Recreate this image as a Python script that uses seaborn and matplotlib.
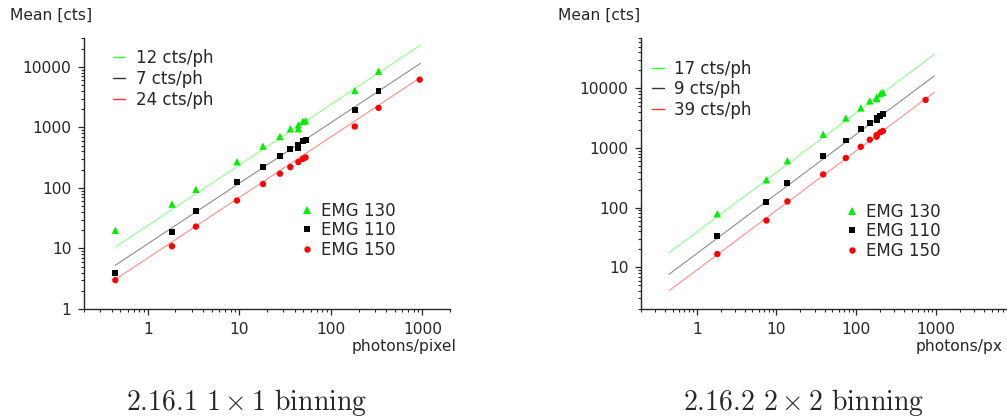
import numpy as np
import pandas as pd
import seaborn as sns
import matplotlib
matplotlib.use("Agg")
import matplotlib.pyplot as plt
from matplotlib.lines import Line2D
from matplotlib.ticker import LogLocator, FuncFormatter, NullFormatter

# ---------------- data ----------------
detectors = ["EMG 130", "EMG 110", "EMG 150"]

# 1x1 binning: illumination (photons/pixel) and mean signal (cts)
x_130_1 = [0.44, 1.83, 3.34, 9.4, 18.1, 27.7, 36, 44, 44, 49.4, 52.8, 182, 331]
y_130_1 = [20, 54, 95, 271, 490, 708, 948, 1100, 950, 1260, 1290, 4060, 8470]
x_110_1 = [0.44, 1.83, 3.34, 9.4, 18.1, 27.7, 36, 44, 44, 49.4, 52.8, 182, 331]
y_110_1 = [4.0, 19, 41, 125, 224, 340, 436, 520, 450, 600, 610, 1970, 3970]
x_150_1 = [0.44, 1.83, 3.34, 9.4, 18.1, 27.7, 36, 44, 49.4, 52.8, 182, 331, 933]
y_150_1 = [3.0, 10.9, 23, 62, 116, 172, 221, 267, 303, 319, 1035, 2100, 6150]

# 2x2 binning
x_130_2 = [1.81, 7.48, 13.7, 38.5, 74, 114, 148, 180, 180, 201, 216]
y_130_2 = [79, 293, 612, 1700, 3190, 4700, 6170, 7100, 6700, 8150, 8600]
x_110_2 = [1.81, 7.48, 13.7, 38.5, 74, 114, 148, 180, 180, 201, 216]
y_110_2 = [33.6, 125, 261, 741, 1340, 2060, 2630, 2960, 3200, 3480, 3680]
x_150_2 = [1.81, 7.48, 13.7, 38.5, 74, 114, 148, 180, 180, 201, 216, 740]
y_150_2 = [16.7, 61, 127, 361, 680, 1050, 1380, 1550, 1650, 1840, 1930, 6410]

# linear fits (cts per photon) per detector
gain_1 = {"EMG 130": 24, "EMG 110": 12, "EMG 150": 7}
gain_2 = {"EMG 130": 39, "EMG 110": 17, "EMG 150": 9}
fit_range_1 = [0.44, 950]
fit_range_2 = [0.45, 950]

# gain values written in the fit legend, top to bottom
fit_legend_1 = [12, 7, 24]
fit_legend_2 = [17, 9, 39]

captions = [r"2.16.1 $1\times1$ binning", r"2.16.2 $2\times2$ binning"]
xlabels = ["photons/pixel", "photons/px"]

# ---------------- styling ----------------
colors = {"EMG 130": "#00ee00", "EMG 110": "#000000", "EMG 150": "#ff0000"}
fit_colors = {"EMG 130": "#00ff00", "EMG 110": "#000000", "EMG 150": "#ff0000"}
markers = {"EMG 130": "^", "EMG 110": "s", "EMG 150": "o"}
msizes = {"EMG 130": 28, "EMG 110": 18, "EMG 150": 21}

TICK_FS = 11.2

sns.set_theme(style="ticks")
plt.rcParams.update({
    "font.family": ["DejaVu Sans"],
    "mathtext.fontset": "cm",
    "axes.linewidth": 1.0,
    "xtick.major.size": 4.5, "ytick.major.size": 4.5,
    "xtick.minor.size": 2.5, "ytick.minor.size": 2.5,
    "xtick.major.width": 0.9, "ytick.major.width": 0.9,
    "xtick.minor.width": 0.8, "ytick.minor.width": 0.8,
    "xtick.labelsize": TICK_FS, "ytick.labelsize": TICK_FS,
    "xtick.major.pad": 4.5, "ytick.major.pad": 4.5,
})

W, H = 1007, 419
fig = plt.figure(figsize=(W / 100, H / 100), dpi=100)


def px(x, y):
    """pixel position (from top-left) -> figure fraction"""
    return x / W, 1 - y / H


def make_axes(left, right, top, bottom):
    l, t = px(left, top)
    r, b = px(right, bottom)
    return fig.add_axes([l, b, r - l, t - b])


ax1 = make_axes(84, 450, 38, 309)
ax2 = make_axes(641, 1008, 38, 309)

panels = [
    dict(ax=ax1,
         xs={"EMG 130": x_130_1, "EMG 110": x_110_1, "EMG 150": x_150_1},
         ys={"EMG 130": y_130_1, "EMG 110": y_110_1, "EMG 150": y_150_1},
         gain=gain_1, fit_range=fit_range_1, fit_legend=fit_legend_1,
         xlim=(0.2, 2000), ylim=(1, 30000),
         fit_leg_xy=(113, 49), pt_leg_xy=(300, 202), spacing=(0.17, 0.08)),
    dict(ax=ax2,
         xs={"EMG 130": x_130_2, "EMG 110": x_110_2, "EMG 150": x_150_2},
         ys={"EMG 130": y_130_2, "EMG 110": y_110_2, "EMG 150": y_150_2},
         gain=gain_2, fit_range=fit_range_2, fit_legend=fit_legend_2,
         xlim=(0.2, 8000), ylim=(2, 70000),
         fit_leg_xy=(652, 60), pt_leg_xy=(845, 203), spacing=(0.14, 0.08)),
]

for p in panels:
    ax = p["ax"]
    ax.set_xscale("log")
    ax.set_yscale("log")

    # fit lines
    for det in detectors:
        fx = np.array(p["fit_range"], dtype=float)
        sns.lineplot(x=fx, y=p["gain"][det] * fx, ax=ax, color=fit_colors[det],
                     lw=0.8, alpha=0.45, legend=False)

    # measured points
    for det in detectors:
        df = pd.DataFrame({"photons": p["xs"][det], "mean": p["ys"][det]})
        sns.scatterplot(data=df, x="photons", y="mean", ax=ax, marker=markers[det],
                        color=colors[det], s=msizes[det], edgecolor="none",
                        linewidth=0, legend=False, zorder=3)

    ax.set_xlim(*p["xlim"])
    ax.set_ylim(*p["ylim"])
    ax.set_xlabel("")
    ax.set_ylabel("")
    sns.despine(ax=ax)

    for axis in (ax.xaxis, ax.yaxis):
        axis.set_major_locator(LogLocator(base=10, numticks=20))
        axis.set_minor_locator(LogLocator(base=10, subs=np.arange(2, 10), numticks=20))
        axis.set_major_formatter(FuncFormatter(lambda v, _: f"{v:g}"))
        axis.set_minor_formatter(NullFormatter())

    # legend for the fitted gains
    fit_handles = [Line2D([], [], color=fit_colors[d], lw=1.0, alpha=0.8) for d in detectors]
    fit_labels = [f"{g} cts/ph" for g in p["fit_legend"]]
    leg1 = ax.legend(fit_handles, fit_labels, loc="upper left",
                     bbox_to_anchor=px(*p["fit_leg_xy"]), bbox_transform=fig.transFigure,
                     frameon=False, fontsize=12, handlelength=0.7, handletextpad=0.65,
                     labelspacing=p["spacing"][0], borderpad=0, borderaxespad=0)
    ax.add_artist(leg1)

    # legend for the detectors
    pt_handles = [Line2D([], [], ls="none", marker=markers[d], color=colors[d],
                         markersize=np.sqrt(msizes[d]), markeredgewidth=0) for d in detectors]
    ax.legend(pt_handles, detectors, loc="upper left",
              bbox_to_anchor=px(*p["pt_leg_xy"]), bbox_transform=fig.transFigure,
              frameon=False, fontsize=12, handlelength=0.8, handletextpad=0.45,
              labelspacing=p["spacing"][1], borderpad=0, borderaxespad=0)

# axis titles
for x0 in (10, 558):
    fig.text(*px(x0, 15), "Mean [cts]", ha="left", va="center", fontsize=TICK_FS)
for x0, xl in [(352, xlabels[0]), (916, xlabels[1])]:
    fig.text(*px(x0, 346), xl, ha="left", va="center", fontsize=TICK_FS)

# figure captions
for xc, cap in [(247, captions[0]), (804, captions[1])]:
    fig.text(*px(xc, 409.5), cap, ha="center", va="baseline", fontsize=20,
             family="cmr10")

fig.savefig("out.png", dpi=100)
